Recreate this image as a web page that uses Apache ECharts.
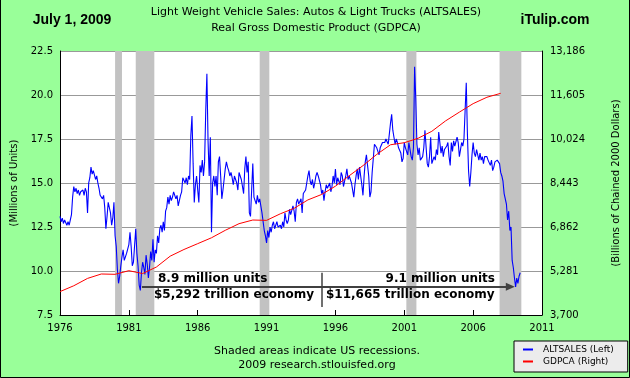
<!DOCTYPE html>
<html>
<head>
<meta charset="utf-8">
<script src="https://cdn.jsdelivr.net/npm/echarts@6/dist/echarts.min.js"></script>
<style>
html,body{margin:0;padding:0;background:#99ff99;}
#c{width:630px;height:378px;}
</style>
</head>
<body>
<div id="c"></div>
<script>
// ---- Data ----
const startYear = 1976;
// ALTSALES monthly, millions of units (SAAR), Jan 1976 .. Jun 2009
const altsales = [
  13.1,12.8,13.0,12.7,12.9,13.0,12.6,12.8,12.6,12.9,13.2,14.2, // 1976
  14.8,14.5,14.7,14.4,14.6,14.3,14.5,14.4,14.6,14.3,14.7,14.5, // 1977
  13.3,15.0,15.3,15.9,15.5,15.7,15.6,15.2,15.4,15.0,14.7,14.3, // 1978
  14.4,14.1,14.3,13.6,12.4,13.1,13.9,13.8,13.3,12.6,13.0,13.9, // 1979
  12.0,11.4,10.1,9.3,9.7,10.3,10.8,11.2,10.6,10.8,11.0,10.9,   // 1980
  11.5,12.2,11.4,10.3,10.5,10.4,12.4,11.0,10.3,9.2,8.9,9.9,    // 1981
  10.5,10.2,9.8,10.9,10.4,9.6,10.2,11.1,10.6,11.8,10.5,11.2,   // 1982
  11.0,12.0,11.6,12.4,12.6,12.2,12.8,12.3,13.4,13.6,14.2,13.8, // 1983
  14.3,14.0,14.2,14.5,14.6,14.1,14.3,13.7,14.0,14.3,14.5,15.3, // 1984
  15.4,15.0,15.3,14.9,15.4,15.2,17.7,18.8,16.1,13.9,14.9,15.4, // 1985
  14.6,13.9,16.0,15.6,16.3,15.4,16.2,19.1,21.2,17.4,15.4,17.6, // 1986
  12.2,15.0,15.4,14.8,15.4,14.3,16.2,16.5,15.4,14.1,14.6,15.2, // 1987
  15.8,16.2,15.9,15.7,15.4,15.6,15.3,14.9,15.4,15.2,15.0,14.6, // 1988
  15.6,15.4,15.2,14.8,14.4,15.8,16.5,15.6,16.2,13.3,13.1,14.6, // 1989
  16.1,14.2,14.0,13.8,14.3,13.9,14.1,14.0,13.3,12.8,12.3,12.0, // 1990
  11.6,12.3,11.9,12.5,12.2,12.6,12.8,12.4,12.6,12.8,12.5,12.4, // 1991
  12.6,12.4,12.8,12.5,13.3,12.9,12.7,12.9,13.5,13.2,13.3,13.7, // 1992
  13.4,12.8,13.9,14.1,13.8,13.7,14.1,13.3,14.4,14.5,14.6,15.0, // 1993
  15.4,15.7,15.1,14.9,15.2,14.7,15.0,15.4,15.6,15.4,15.3,14.9, // 1994
  14.4,14.6,14.0,14.5,14.9,14.7,14.8,15.0,14.5,14.8,15.4,15.0, // 1995
  15.8,14.9,15.3,15.4,14.9,15.6,15.4,14.8,15.1,15.4,15.8,15.2, // 1996
  15.4,15.2,15.0,14.6,14.2,14.9,15.4,15.8,15.2,15.9,15.4,14.9, // 1997
  14.3,15.4,16.2,16.6,16.0,15.4,14.2,14.5,15.6,16.4,17.2,17.3, // 1998
  17.0,16.8,16.6,17.0,17.1,17.3,17.4,17.3,17.5,17.6,17.2,17.3, // 1999
  18.4,18.9,18.0,17.6,17.2,17.5,17.3,17.0,16.9,16.7,16.2,16.4, // 2000
  17.3,17.0,16.8,16.6,17.3,16.9,16.5,16.3,17.0,21.6,19.8,17.2, // 2001
  16.6,17.0,16.3,16.4,16.5,17.0,18.0,18.1,16.1,15.9,16.5,17.6, // 2002
  16.1,16.3,16.5,16.3,16.9,16.6,17.9,17.9,16.7,17.1,16.5,16.9, // 2003
  16.9,17.1,17.3,16.5,16.0,17.3,16.8,17.4,17.1,17.0,17.6,17.3, // 2004
  16.5,16.9,17.3,17.1,17.5,19.1,20.7,17.8,15.7,14.8,15.6,16.6, // 2005
  17.3,16.7,16.5,16.9,16.6,16.3,16.7,16.3,16.5,16.1,16.5,16.5, // 2006
  16.5,16.3,16.2,16.0,16.3,15.7,15.9,16.2,16.1,16.3,16.2,16.1, // 2007
  15.6,15.4,15.1,14.4,14.3,13.8,12.9,13.4,12.3,12.5,10.6,10.2, // 2008
  9.6,9.1,9.6,9.3,9.7,9.9                                      // 2009
];
// GDPCA annual, billions of chained 2000 dollars
const gdpYears = [1976,1977,1978,1979,1980,1981,1982,1983,1984,1985,1986,1987,1988,1989,1990,1991,1992,1993,1994,1995,1996,1997,1998,1999,2000,2001,2002,2003,2004,2005,2006,2007,2008];
const gdpca = [4540.9,4750.5,5015.0,5173.4,5161.7,5291.7,5189.3,5423.8,5813.6,6053.7,6263.6,6475.1,6742.7,6981.4,7112.5,7100.5,7336.6,7532.7,7835.5,8031.7,8328.9,8703.5,9066.9,9470.3,9817.0,9890.7,10048.8,10301.0,10675.8,10989.5,11294.8,11523.9,11665.0];
// US recessions (decimal years)
const recessions = [[1980.0,1980.5],[1981.5,1982.85],[1990.5,1991.2],[2001.15,2001.88],[2007.92,2009.5]];
// Axis settings
const xTicks = {min:1976, max:2011, step:5};
const leftTicks = {min:7.5, max:22.5, step:2.5};
const rightTicks = {min:3700, max:13186, step:1581};
// Annotation arrow (data space)
const arrowFrom = [1981.95, 9.1], arrowTo = [2008.7, 9.1];
const dividerX = 1995.03, dividerY = [7.95, 9.9];

const salesData = altsales.map((v,i)=>[startYear + i/12, v]);
const gdpData = gdpca.map((v,i)=>[gdpYears[i], v]);

const F = 'DejaVu Sans';
const chart = echarts.init(document.getElementById('c'), null, {renderer:'canvas', width:630, height:378});
chart.setOption({
  animation:false,
  backgroundColor:'#99ff99',
  grid:{left:60, right:88, top:51, bottom:63, show:true, backgroundColor:'#ffffff', borderWidth:0,
        containLabel:false, outerBoundsMode:'none'},
  legend:{
    data:['ALTSALES (Left)','GDPCA (Right)'],
    orient:'vertical', left:514, top:341,
    padding:[4,14,6,9], itemGap:3, itemWidth:10, itemHeight:2, icon:'rect',
    backgroundColor:'#ececec', borderColor:'#000', borderWidth:1, borderRadius:0,
    textStyle:{fontFamily:F, fontSize:9, color:'#000', padding:[0,0,0,5]}
  },
  xAxis:{
    type:'value', min:xTicks.min, max:xTicks.max, interval:xTicks.step,
    axisLine:{show:true, lineStyle:{color:'#000', width:1}},
    axisTick:{show:true, inside:true, length:5, lineStyle:{color:'#000'}},
    axisLabel:{fontFamily:F, fontSize:10, color:'#000', margin:8, formatter:v=>String(v)},
    splitLine:{show:false}
  },
  yAxis:[{
    type:'value', position:'left', min:leftTicks.min, max:leftTicks.max, interval:leftTicks.step,
    name:'(Millions of Units)', nameLocation:'middle', nameRotate:90, nameGap:41,
    nameTextStyle:{fontFamily:F, fontSize:10, color:'#000'},
    axisLine:{show:true, lineStyle:{color:'#000', width:1}},
    axisTick:{show:false},
    axisLabel:{fontFamily:F, fontSize:10, color:'#000', margin:7, formatter:v=>v.toFixed(1)},
    splitLine:{show:true, lineStyle:{color:'#999999', width:1}}
  },{
    type:'value', position:'right', min:rightTicks.min, max:rightTicks.max, interval:rightTicks.step,
    name:'(Billions of Chained 2000 Dollars)', nameLocation:'middle', nameRotate:90, nameGap:69,
    nameTextStyle:{fontFamily:F, fontSize:10, color:'#000'},
    axisLine:{show:true, lineStyle:{color:'#000', width:1}},
    axisTick:{show:false},
    axisLabel:{fontFamily:F, fontSize:10, color:'#000', margin:8, formatter:v=>Math.round(v).toLocaleString('en-US')},
    splitLine:{show:false}
  }],
  series:[{
    name:'ALTSALES (Left)', type:'line', yAxisIndex:0, data:salesData,
    showSymbol:false, symbol:'none', z:3,
    lineStyle:{color:'#0000ff', width:1.1}, itemStyle:{color:'#0000ff'},
    markArea:{silent:true, itemStyle:{color:'#c2c2c2'},
      data:recessions.map(r=>[{xAxis:r[0]},{xAxis:r[1]}])},
    markLine:{silent:true, symbol:['none','none'], label:{show:false},
      lineStyle:{color:'#404040', width:2, type:'solid'},
      data:[
        [{coord:arrowFrom, symbol:'none'},{coord:arrowTo, symbol:'triangle', symbolSize:[8,9]}],
        [{coord:[dividerX, dividerY[0]], symbol:'none', lineStyle:{width:1.5}},{coord:[dividerX, dividerY[1]], symbol:'none'}]
      ]}
  },{
    name:'GDPCA (Right)', type:'line', yAxisIndex:1, data:gdpData,
    showSymbol:false, symbol:'none', z:4,
    lineStyle:{color:'#ff0000', width:1}, itemStyle:{color:'#ff0000'}
  }],
  graphic:[
    {type:'polyline', silent:true, shape:{points:[[0.5,0],[0.5,377.5],[629.5,377.5],[629.5,0]]}, style:{stroke:'#000', fill:null, lineWidth:1}},
    {type:'text', x:72, y:20, style:{text:'July 1, 2009', font:'bold 14px "Liberation Sans"', fill:'#000', textAlign:'center', textVerticalAlign:'middle'}},
    {type:'text', x:555, y:20, style:{text:'iTulip.com', font:'bold 14px "Liberation Sans"', fill:'#000', textAlign:'center', textVerticalAlign:'middle'}},
    {type:'text', x:316, y:12, style:{text:'Light Weight Vehicle Sales: Autos & Light Trucks (ALTSALES)', font:'11px "DejaVu Sans"', fill:'#000', textAlign:'center', textVerticalAlign:'middle'}},
    {type:'text', x:316, y:28, style:{text:'Real Gross Domestic Product (GDPCA)', font:'11px "DejaVu Sans"', fill:'#000', textAlign:'center', textVerticalAlign:'middle'}},
    {type:'text', x:317, y:351, style:{text:'Shaded areas indicate US recessions.', font:'11px "DejaVu Sans"', fill:'#000', textAlign:'center', textVerticalAlign:'middle'}},
    {type:'text', x:317, y:365, style:{text:'2009 research.stlouisfed.org', font:'11px "DejaVu Sans"', fill:'#000', textAlign:'center', textVerticalAlign:'middle'}},
    {type:'text', x:158, y:279, z:10, style:{text:'8.9 million units', font:'bold 12px "DejaVu Sans"', fill:'#000', textAlign:'left', textVerticalAlign:'middle'}},
    {type:'text', x:154, y:295, z:10, style:{text:'$5,292 trillion economy', font:'bold 12px "DejaVu Sans"', fill:'#000', textAlign:'left', textVerticalAlign:'middle'}},
    {type:'text', x:495, y:279, z:10, style:{text:'9.1 million units', font:'bold 12px "DejaVu Sans"', fill:'#000', textAlign:'right', textVerticalAlign:'middle'}},
    {type:'text', x:326, y:295, z:10, style:{text:'$11,665 trillion economy', font:'bold 12px "DejaVu Sans"', fill:'#000', textAlign:'left', textVerticalAlign:'middle'}}
  ]
});
</script>
</body>
</html>
